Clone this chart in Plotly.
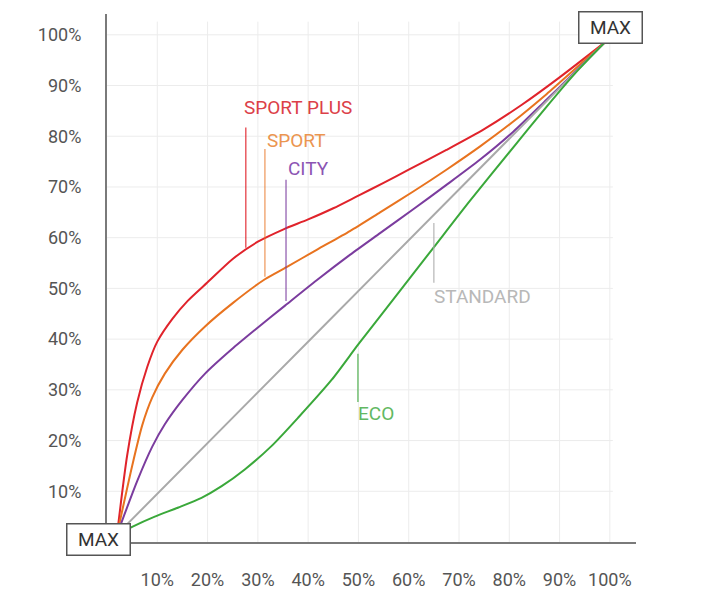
import plotly.graph_objects as go

# ---- data (percent of pedal travel vs. percent of throttle response) ----
sport_plus_x = [2, 4, 6, 8, 10, 13, 16, 20, 25, 30, 35, 40, 45, 50, 55, 60, 67.5, 75, 82.5, 90, 99]
sport_plus_y = [1.5, 17, 27.5, 34.5, 39.5, 44, 47.5, 51.2, 55.8, 59.2, 61.6, 63.6, 65.8, 68.3, 70.8, 73.4, 77.3, 81.4, 86.2, 91.6, 98.5]

sport_x = [2, 5, 7, 9, 11.5, 15, 19.5, 25, 31.4, 35.7, 41.7, 48.3, 54.3, 60.9, 67.5, 74.2, 80.8, 87.4, 93, 99]
sport_y = [1.5, 15, 23, 28.5, 33.2, 37.9, 42.5, 47.1, 51.8, 54.2, 57.6, 61.3, 65.0, 69.1, 73.4, 78.0, 82.9, 88.3, 93.2, 98.5]

city_x = [2, 6, 9, 11.5, 15, 19.5, 24.8, 29.4, 35.4, 41.7, 48.3, 54.3, 60.9, 67.5, 74.2, 80.8, 87.4, 93, 99]
city_y = [1.5, 12, 18.8, 23.2, 28.0, 33.2, 38.0, 41.8, 46.6, 51.6, 56.6, 60.9, 65.6, 70.4, 75.4, 80.9, 87.2, 92.6, 98.5]

standard_x = [2, 29.4, 54.3, 99]
standard_y = [1.5, 28.9, 53.8, 98.5]

eco_x = [2, 5, 9.5, 14.2, 18.8, 22.8, 27.4, 32.7, 38, 44.7, 50, 56.9, 64.9, 72.2, 80.8, 87.4, 93, 99]
eco_y = [1.5, 3.0, 5.0, 6.8, 8.7, 11.0, 14.3, 18.9, 24.5, 32.0, 39.0, 47.8, 58.0, 67.3, 77.8, 85.8, 92.3, 98.5]

tick_vals = [10, 20, 30, 40, 50, 60, 70, 80, 90, 100]
tick_text = ["10%", "20%", "30%", "40%", "50%", "60%", "70%", "80%", "90%", "100%"]

series = [
    ("SPORT PLUS", sport_plus_x, sport_plus_y, "#e0232b"),
    ("SPORT", sport_x, sport_y, "#e8731f"),
    ("CITY", city_x, city_y, "#7b3c9e"),
    ("STANDARD", standard_x, standard_y, "#a9a9a9"),
    ("ECO", eco_x, eco_y, "#3aa83a"),
]

# label positions (data coords), leader line (x, y0, y1), label colour
labels = {
    "SPORT PLUS": dict(tx=26.8, ty=85.6, lx=27.6, ly0=81.7, ly1=58.0, c="#dc4048", lc="rgba(224,35,43,0.75)"),
    "SPORT": dict(tx=31.4, ty=79.1, lx=31.4, ly0=77.5, ly1=52.3, c="#eb9550", lc="rgba(232,115,31,0.6)"),
    "CITY": dict(tx=35.6, ty=73.6, lx=35.6, ly0=71.4, ly1=47.5, c="#8c55b3", lc="rgba(123,60,158,0.7)"),
    "STANDARD": dict(tx=64.6, ty=48.5, lx=65.0, ly0=62.9, ly1=51.1, c="#b8b8b8", lc="rgba(169,169,169,0.7)"),
    "ECO": dict(tx=49.5, ty=25.4, lx=49.9, ly0=37.1, ly1=27.6, c="#62b862", lc="rgba(58,168,58,0.7)"),
}

FONT = "Roboto"

fig = go.Figure()

shapes = []
# gridlines limited to the 0-100 region
for v in tick_vals:
    shapes.append(dict(type="line", xref="x", yref="y", x0=v, x1=v, y0=0, y1=102.6,
                       line=dict(color="#ececec", width=1), layer="below"))
    shapes.append(dict(type="line", xref="x", yref="y", x0=0, x1=100.6, y0=v, y1=v,
                       line=dict(color="#ececec", width=1), layer="below"))

for name, xs, ys, col in series:
    fig.add_trace(go.Scatter(x=xs, y=ys, mode="lines", name=name,
                             line=dict(color=col, width=2, shape="spline", smoothing=0.7),
                             hoverinfo="skip", showlegend=False))

annotations = []
for name, d in labels.items():
    shapes.append(dict(type="line", xref="x", yref="y", x0=d["lx"], x1=d["lx"], y0=d["ly0"], y1=d["ly1"],
                       line=dict(color=d["lc"], width=1.5)))
    annotations.append(dict(x=d["tx"], y=d["ty"], xref="x", yref="y", text=name, showarrow=False,
                            xanchor="left", yanchor="middle",
                            font=dict(family=FONT, size=19, color=d["c"])))

for bx, by in [(-0.017, 0.004), (0.9525, 0.9735)]:
    annotations.append(dict(x=bx, y=by, xref="paper", yref="paper", text="MAX", showarrow=False,
                            xanchor="center", yanchor="middle", width=60, height=28,
                            bgcolor="white", bordercolor="#555555", borderwidth=1.5, borderpad=1,
                            font=dict(family=FONT, size=19, color="#333333")))

fig.update_layout(
    width=710, height=607, autosize=False,
    margin=dict(l=107, r=74, t=14, b=65, pad=0),
    paper_bgcolor="white", plot_bgcolor="white",
    shapes=shapes, annotations=annotations,
    xaxis=dict(range=[0, 105.2], showgrid=False, zeroline=False, showline=True,
               linecolor="#7a7a7a", linewidth=2, tickvals=tick_vals, ticktext=tick_text,
               ticks="", ticklabelstandoff=20,
               tickfont=dict(family=FONT, size=18, color="#555555"), fixedrange=True),
    yaxis=dict(range=[0, 104.1], showgrid=False, zeroline=False, showline=True,
               linecolor="#7a7a7a", linewidth=2, tickvals=tick_vals, ticktext=tick_text,
               ticks="", ticklabelstandoff=20,
               tickfont=dict(family=FONT, size=18, color="#555555"), fixedrange=True),
)

fig.write_html("out.html")
